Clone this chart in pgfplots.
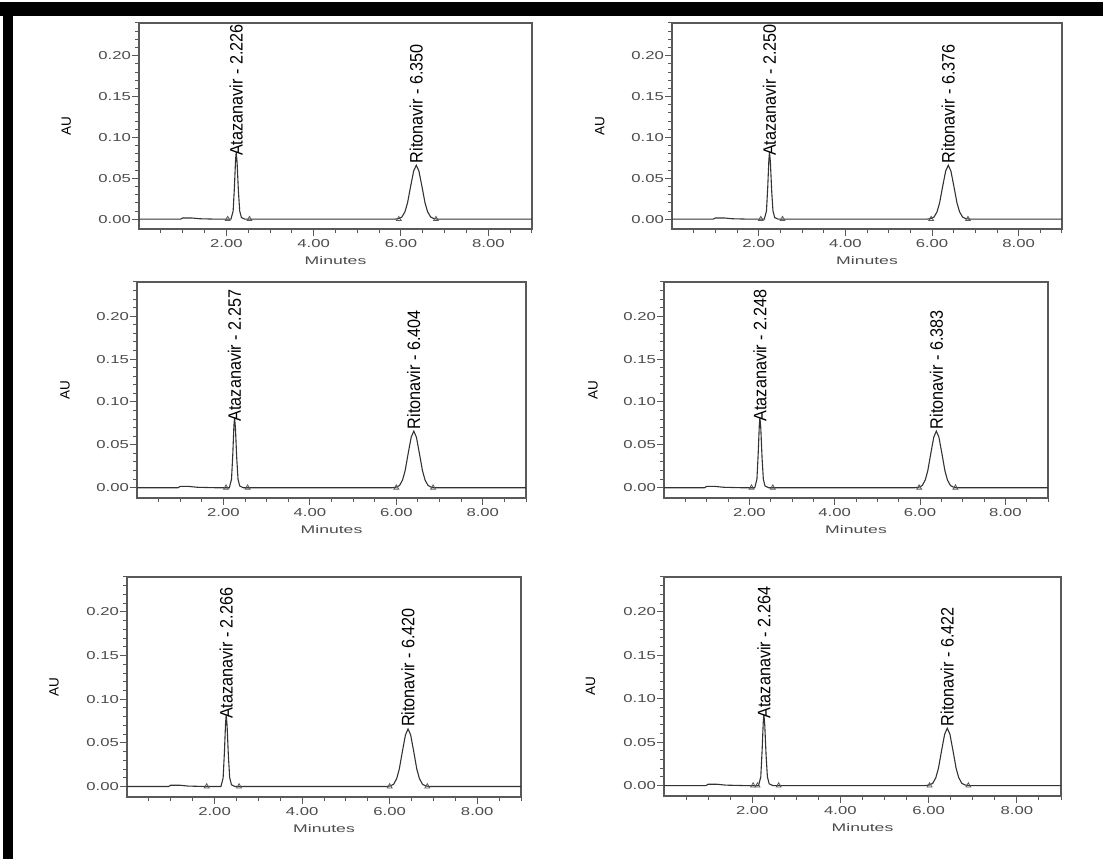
\documentclass[border=0pt]{standalone}
\usepackage{pgfplots}
\pgfplotsset{compat=1.18}
\usepackage{fontspec}
\setmainfont{Liberation Sans}
\newfontfamily\ticfont[FakeStretch=1.45]{Liberation Sans}
\newfontfamily\minfont[FakeStretch=1.6]{Liberation Sans}
\newfontfamily\peakfont[FakeStretch=0.9]{Liberation Sans}
\definecolor{axgray}{gray}{0.35}
\definecolor{txgray}{gray}{0.3}
\definecolor{trace}{gray}{0.2}
\tikzset{plab/.style={rotate=90, anchor=west, inner sep=1pt, font=\peakfont\fontsize{18}{20}\selectfont, text=black}}
\pgfplotsset{
  chrom/.style={
    scale only axis,
    xmin=0, xmax=9, ymin=-0.012, ymax=0.24,
    axis line style={draw=axgray, line width=1.4pt},
    xtick={2,4,6,8}, xticklabels={2.00,4.00,6.00,8.00},
    minor xtick={0.5,1,1.5,2.5,3,3.5,4.5,5,5.5,6.5,7,7.5,8.5,9},
    ytick={0,0.05,0.10,0.15,0.20}, yticklabels={0.00,0.05,0.10,0.15,0.20},
    minor ytick={0.01,0.02,0.03,0.04,0.06,0.07,0.08,0.09,0.11,0.12,0.13,0.14,0.16,0.17,0.18,0.19,0.21,0.22,0.23,0.24},
    tick align=outside, xtick pos=bottom, ytick pos=left,
    major tick length=7pt, minor tick length=4pt,
    every tick/.style={draw=axgray, line width=1pt},
    tick label style={font=\ticfont\fontsize{11.5}{13}\selectfont, text=txgray},
    yticklabel style={inner sep=1pt},
    xlabel={Minutes}, ylabel={AU},
    every axis x label/.style={at={(axis description cs:0.5,0)}, anchor=center, yshift=-32pt, font=\minfont\fontsize{11}{13}\selectfont, text=txgray},
    every axis y label/.style={at={(axis description cs:-0.185,0.5)}, rotate=90, anchor=center, font=\fontsize{13.5}{15}\selectfont, text=black},
    clip=false,
  },
  trc/.style={draw=trace, line width=1.1pt, mark=none},
  tri/.style={only marks, mark=triangle, mark size=2.8pt, mark options={draw=axgray, line width=0.8pt}},
}
\begin{document}
\begin{tikzpicture}
\useasboundingbox (0pt,0pt) rectangle (1103pt,859pt);
\fill[black] (0pt,843pt) rectangle (1103pt,857pt);
\fill[black] (3pt,0pt) rectangle (13pt,857pt);

% Panel 1
\begin{axis}[chrom, at={(139pt,630pt)}, anchor=south west, width=393pt, height=206pt]
\addplot[trc] coordinates {(0,0) (0.95,0) (1.0,0.0015) (1.2,0.0015) (1.4,0.0005) (1.8,0)
 (2.106,0) (2.156,0.01) (2.186,0.04) (2.211,0.072) (2.226,0.082) (2.246,0.07) (2.276,0.035) (2.306,0.01) (2.346,0.002) (2.426,0)
 (5.85,0) (5.95,0.0007) (6.02,0.0026) (6.09,0.009) (6.15,0.020) (6.22,0.040) (6.29,0.059) (6.35,0.066) (6.41,0.059) (6.48,0.040) (6.55,0.020) (6.61,0.009) (6.68,0.0026) (6.75,0.0007) (6.85,0) (9,0)};
\addplot[tri] coordinates {(2.03,0) (2.53,0) (5.95,0) (6.80,0)};
\node[plab] at (axis cs:2.226,0.076) {Atazanavir - 2.226};
\node[plab] at (axis cs:6.350,0.067) {Ritonavir - 6.350};
\end{axis}

% Panel 2
\begin{axis}[chrom, at={(672pt,630pt)}, anchor=south west, width=390pt, height=206pt]
\addplot[trc] coordinates {(0,0) (0.95,0) (1.0,0.0015) (1.2,0.0015) (1.4,0.0005) (1.8,0)
 (2.13,0) (2.18,0.01) (2.21,0.04) (2.235,0.072) (2.25,0.082) (2.27,0.07) (2.30,0.035) (2.33,0.01) (2.37,0.002) (2.45,0)
 (5.876,0) (5.976,0.0007) (6.046,0.0026) (6.116,0.009) (6.176,0.02) (6.246,0.04) (6.316,0.059) (6.376,0.066) (6.436,0.059) (6.506,0.04) (6.576,0.02) (6.636,0.009) (6.706,0.0026) (6.776,0.0007) (6.876,0) (9,0)};
\addplot[tri] coordinates {(2.05,0) (2.55,0) (5.98,0) (6.83,0)};
\node[plab] at (axis cs:2.250,0.076) {Atazanavir - 2.250};
\node[plab] at (axis cs:6.376,0.067) {Ritonavir - 6.376};
\end{axis}

% Panel 3
\begin{axis}[chrom, at={(137pt,361pt)}, anchor=south west, width=389pt, height=216pt]
\addplot[trc] coordinates {(0,0) (0.95,0) (1.0,0.0015) (1.2,0.0015) (1.4,0.0005) (1.8,0)
 (2.137,0) (2.187,0.01) (2.217,0.04) (2.242,0.072) (2.257,0.082) (2.277,0.07) (2.307,0.035) (2.337,0.01) (2.377,0.002) (2.457,0)
 (5.904,0) (6.004,0.0007) (6.074,0.0026) (6.144,0.009) (6.204,0.02) (6.274,0.04) (6.344,0.059) (6.404,0.066) (6.464,0.059) (6.534,0.04) (6.604,0.02) (6.664,0.009) (6.734,0.0026) (6.804,0.0007) (6.904,0) (9,0)};
\addplot[tri] coordinates {(2.06,0) (2.56,0) (6.00,0) (6.85,0)};
\node[plab] at (axis cs:2.257,0.076) {Atazanavir - 2.257};
\node[plab] at (axis cs:6.404,0.067) {Ritonavir - 6.404};
\end{axis}

% Panel 4
\begin{axis}[chrom, at={(664pt,361pt)}, anchor=south west, width=384pt, height=216pt]
\addplot[trc] coordinates {(0,0) (0.95,0) (1.0,0.0015) (1.2,0.0015) (1.4,0.0005) (1.8,0)
 (2.128,0) (2.178,0.01) (2.208,0.04) (2.233,0.072) (2.248,0.082) (2.268,0.07) (2.298,0.035) (2.328,0.01) (2.368,0.002) (2.448,0)
 (5.883,0) (5.983,0.0007) (6.053,0.0026) (6.123,0.009) (6.183,0.02) (6.253,0.04) (6.323,0.059) (6.383,0.066) (6.443,0.059) (6.513,0.04) (6.583,0.02) (6.643,0.009) (6.713,0.0026) (6.783,0.0007) (6.883,0) (9,0)};
\addplot[tri] coordinates {(2.05,0) (2.55,0) (5.98,0) (6.83,0)};
\node[plab] at (axis cs:2.248,0.076) {Atazanavir - 2.248};
\node[plab] at (axis cs:6.383,0.067) {Ritonavir - 6.383};
\end{axis}

% Panel 5
\begin{axis}[chrom, at={(127pt,62pt)}, anchor=south west, width=394pt, height=220pt]
\addplot[trc] coordinates {(0,0) (0.95,0) (1.0,0.0015) (1.2,0.0015) (1.4,0.0005) (1.8,0)
 (2.146,0) (2.196,0.01) (2.226,0.04) (2.251,0.072) (2.266,0.082) (2.286,0.07) (2.316,0.035) (2.346,0.01) (2.386,0.002) (2.466,0)
 (5.92,0) (6.02,0.0007) (6.09,0.0026) (6.16,0.009) (6.22,0.02) (6.29,0.04) (6.36,0.059) (6.42,0.066) (6.48,0.059) (6.55,0.04) (6.62,0.02) (6.68,0.009) (6.75,0.0026) (6.82,0.0007) (6.92,0) (9,0)};
\addplot[tri] coordinates {(1.82,0) (2.56,0) (6.00,0) (6.86,0)};
\node[plab] at (axis cs:2.266,0.076) {Atazanavir - 2.266};
\node[plab] at (axis cs:6.420,0.067) {Ritonavir - 6.420};
\end{axis}

% Panel 6
\begin{axis}[chrom, at={(664pt,63pt)}, anchor=south west, width=397pt, height=219pt]
\addplot[trc] coordinates {(0,0) (0.95,0) (1.0,0.0015) (1.2,0.0015) (1.4,0.0005) (1.8,0)
 (2.144,0) (2.194,0.01) (2.224,0.04) (2.249,0.072) (2.264,0.082) (2.284,0.07) (2.314,0.035) (2.344,0.01) (2.384,0.002) (2.464,0)
 (5.922,0) (6.022,0.0007) (6.092,0.0026) (6.162,0.009) (6.222,0.02) (6.292,0.04) (6.362,0.059) (6.422,0.066) (6.482,0.059) (6.552,0.04) (6.622,0.02) (6.682,0.009) (6.752,0.0026) (6.822,0.0007) (6.922,0) (9,0)};
\addplot[tri] coordinates {(2.02,0) (2.12,0) (2.60,0) (6.02,0) (6.90,0)};
\node[plab] at (axis cs:2.264,0.076) {Atazanavir - 2.264};
\node[plab] at (axis cs:6.422,0.067) {Ritonavir - 6.422};
\end{axis}
\end{tikzpicture}
\end{document}
